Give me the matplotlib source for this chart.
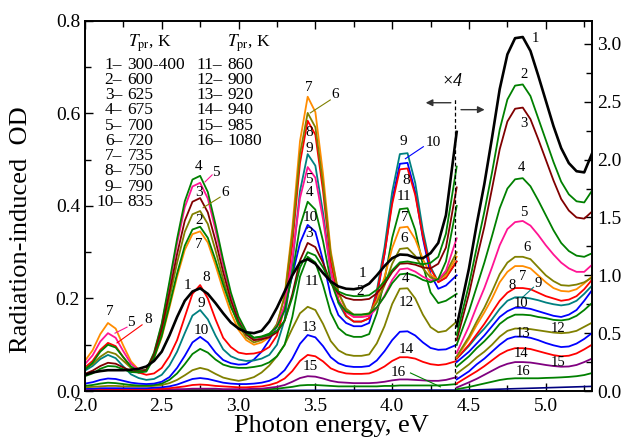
import matplotlib
matplotlib.use("Agg")
import matplotlib.pyplot as plt
from matplotlib.ticker import MultipleLocator, FormatStrFormatter

plt.rcParams["font.family"] = ["Liberation Serif", "DejaVu Serif"]
plt.rcParams["mathtext.fontset"] = "stix"
plt.rcParams["figure.dpi"] = 100

# photon energy grid, left part (OD on left axis)
energy_left = [2.00, 2.05, 2.10, 2.15, 2.20, 2.25, 2.30, 2.35, 2.40, 2.45,
               2.50, 2.55, 2.60, 2.65, 2.70, 2.75, 2.80, 2.85, 2.90, 2.95,
               3.00, 3.05, 3.10, 3.15, 3.20, 3.25, 3.30, 3.35, 3.40, 3.45,
               3.50, 3.55, 3.60, 3.65, 3.70, 3.75, 3.80, 3.85, 3.90, 3.95,
               4.00, 4.05, 4.10, 4.15, 4.20, 4.25, 4.30, 4.35, 4.42]

# right part (real OD on right axis, left part is x4)
energy_right = [4.42, 4.50, 4.55, 4.60, 4.65, 4.70, 4.75, 4.80, 4.85,
                4.90, 4.95, 5.00, 5.05, 5.10, 5.15, 5.20, 5.25, 5.30]

temps = ["300-400", "600", "625", "675", "700", "720", "735", "750", "790",
         "835", "860", "900", "920", "940", "985", "1080"]

colors = ["#000000", "#008000", "#800000", "#008000", "#ff1493", "#808000",
          "#ff8c00", "#ff0000", "#008080", "#0000ff", "#008000", "#808000",
          "#0000ff", "#ff0000", "#800080", "#008000"]

od_left_1 = [0.035, 0.040, 0.043, 0.045, 0.045, 0.045, 0.046, 0.048, 0.053,
             0.065, 0.085, 0.120, 0.160, 0.195, 0.215, 0.222, 0.210, 0.190, 0.168, 0.148, 0.135, 0.127, 0.125,
             0.130, 0.150, 0.180, 0.215, 0.250, 0.278, 0.285, 0.275, 0.255, 0.237, 0.226, 0.221, 0.220, 0.223,
             0.232, 0.250, 0.270, 0.287, 0.295, 0.294, 0.288, 0.287, 0.298, 0.320, 0.380, 0.560]
od_left_2 = [0.032, 0.038, 0.048, 0.054, 0.053, 0.047, 0.041, 0.040, 0.042,
             0.072, 0.119, 0.185, 0.254, 0.314, 0.349, 0.355, 0.331, 0.283, 0.230, 0.182, 0.146, 0.125, 0.115,
             0.117, 0.121, 0.130, 0.152, 0.202, 0.267, 0.300, 0.293, 0.267, 0.234, 0.215, 0.208, 0.205, 0.205,
             0.207, 0.219, 0.237, 0.261, 0.278, 0.280, 0.277, 0.274, 0.277, 0.290, 0.340, 0.485]
od_left_3 = [0.037, 0.044, 0.054, 0.061, 0.059, 0.051, 0.043, 0.040, 0.045,
             0.078, 0.134, 0.213, 0.296, 0.368, 0.409, 0.417, 0.386, 0.325, 0.257, 0.196, 0.150, 0.122, 0.110,
             0.112, 0.116, 0.127, 0.152, 0.209, 0.282, 0.320, 0.311, 0.277, 0.234, 0.211, 0.201, 0.197, 0.197,
             0.199, 0.211, 0.231, 0.257, 0.275, 0.276, 0.273, 0.267, 0.265, 0.275, 0.310, 0.440]
od_left_4 = [0.046, 0.061, 0.085, 0.100, 0.094, 0.073, 0.053, 0.043, 0.046,
             0.083, 0.146, 0.236, 0.329, 0.410, 0.457, 0.465, 0.430, 0.360, 0.283, 0.213, 0.161, 0.129, 0.115,
             0.118, 0.124, 0.139, 0.174, 0.253, 0.356, 0.409, 0.392, 0.324, 0.238, 0.192, 0.172, 0.165, 0.165,
             0.167, 0.181, 0.204, 0.233, 0.252, 0.254, 0.249, 0.240, 0.235, 0.242, 0.280, 0.400]
od_left_5 = [0.058, 0.077, 0.107, 0.125, 0.115, 0.086, 0.059, 0.045, 0.046,
             0.081, 0.143, 0.229, 0.319, 0.397, 0.442, 0.450, 0.416, 0.348, 0.273, 0.205, 0.154, 0.124, 0.110,
             0.114, 0.121, 0.140, 0.185, 0.286, 0.417, 0.484, 0.461, 0.371, 0.257, 0.196, 0.170, 0.160, 0.160,
             0.162, 0.179, 0.206, 0.240, 0.263, 0.265, 0.258, 0.247, 0.239, 0.240, 0.260, 0.330]
od_left_6 = [0.049, 0.058, 0.074, 0.085, 0.080, 0.065, 0.050, 0.043, 0.045,
             0.075, 0.127, 0.200, 0.277, 0.344, 0.382, 0.389, 0.361, 0.304, 0.241, 0.185, 0.142, 0.116, 0.105,
             0.110, 0.120, 0.145, 0.204, 0.338, 0.512, 0.601, 0.570, 0.448, 0.296, 0.213, 0.178, 0.165, 0.165,
             0.168, 0.191, 0.228, 0.275, 0.307, 0.309, 0.292, 0.265, 0.245, 0.240, 0.255, 0.300]
od_left_7 = [0.065, 0.088, 0.123, 0.147, 0.135, 0.098, 0.064, 0.046, 0.046,
             0.071, 0.116, 0.180, 0.247, 0.305, 0.339, 0.345, 0.321, 0.272, 0.218, 0.169, 0.132, 0.110, 0.100,
             0.105, 0.116, 0.143, 0.207, 0.352, 0.540, 0.636, 0.603, 0.469, 0.303, 0.212, 0.174, 0.160, 0.160,
             0.164, 0.196, 0.246, 0.309, 0.353, 0.355, 0.328, 0.285, 0.251, 0.240, 0.250, 0.290]
od_left_8 = [0.051, 0.065, 0.089, 0.104, 0.097, 0.073, 0.051, 0.040, 0.035,
             0.038, 0.050, 0.075, 0.110, 0.160, 0.210, 0.229, 0.200, 0.155, 0.115, 0.095, 0.083, 0.080, 0.081,
             0.085, 0.095, 0.120, 0.181, 0.317, 0.493, 0.584, 0.554, 0.432, 0.280, 0.198, 0.163, 0.150, 0.150,
             0.157, 0.211, 0.296, 0.404, 0.479, 0.481, 0.424, 0.334, 0.264, 0.235, 0.245, 0.280]
od_left_9 = [0.044, 0.054, 0.069, 0.078, 0.071, 0.053, 0.036, 0.028, 0.024,
             0.026, 0.035, 0.055, 0.085, 0.125, 0.163, 0.175, 0.155, 0.120, 0.090, 0.075, 0.068, 0.065, 0.066,
             0.070, 0.078, 0.100, 0.154, 0.275, 0.432, 0.512, 0.487, 0.385, 0.259, 0.190, 0.161, 0.150, 0.150,
             0.157, 0.217, 0.310, 0.430, 0.512, 0.514, 0.450, 0.347, 0.268, 0.236, 0.245, 0.280]
od_left_10 = [0.016, 0.019, 0.024, 0.027, 0.026, 0.022, 0.018, 0.016, 0.015,
              0.016, 0.020, 0.030, 0.050, 0.076, 0.105, 0.117, 0.105, 0.083, 0.067, 0.060, 0.057, 0.058, 0.068,
              0.085, 0.110, 0.140, 0.180, 0.250, 0.320, 0.359, 0.344, 0.282, 0.206, 0.164, 0.147, 0.140, 0.140,
              0.147, 0.205, 0.296, 0.412, 0.491, 0.493, 0.430, 0.330, 0.252, 0.221, 0.228, 0.250]
od_left_11 = [0.011, 0.013, 0.016, 0.018, 0.017, 0.015, 0.013, 0.012, 0.012,
              0.013, 0.016, 0.024, 0.038, 0.058, 0.080, 0.091, 0.083, 0.068, 0.057, 0.052, 0.050, 0.050, 0.052,
              0.055, 0.062, 0.075, 0.100, 0.160, 0.247, 0.290, 0.278, 0.229, 0.169, 0.136, 0.122, 0.117, 0.117,
              0.123, 0.168, 0.240, 0.331, 0.393, 0.395, 0.348, 0.272, 0.213, 0.190, 0.195, 0.210]
od_left_12 = [0.008, 0.009, 0.010, 0.011, 0.011, 0.010, 0.010, 0.010, 0.010,
              0.011, 0.013, 0.017, 0.024, 0.034, 0.045, 0.050, 0.046, 0.037, 0.029, 0.025, 0.022, 0.025, 0.030,
              0.040, 0.055, 0.075, 0.100, 0.135, 0.168, 0.182, 0.175, 0.145, 0.108, 0.088, 0.079, 0.076, 0.076,
              0.079, 0.103, 0.140, 0.188, 0.221, 0.222, 0.200, 0.165, 0.138, 0.127, 0.130, 0.150]
od_left_13 = [0.005, 0.005, 0.006, 0.006, 0.006, 0.006, 0.006, 0.006, 0.006,
              0.007, 0.008, 0.010, 0.014, 0.020, 0.026, 0.028, 0.026, 0.022, 0.018, 0.016, 0.015, 0.015, 0.016,
              0.018, 0.022, 0.030, 0.045, 0.070, 0.102, 0.121, 0.116, 0.097, 0.073, 0.060, 0.054, 0.052, 0.052,
              0.054, 0.066, 0.086, 0.110, 0.128, 0.129, 0.120, 0.105, 0.093, 0.089, 0.090, 0.100]
od_left_14 = [0.004, 0.004, 0.004, 0.004, 0.004, 0.004, 0.004, 0.004, 0.004,
              0.004, 0.005, 0.006, 0.008, 0.010, 0.013, 0.014, 0.013, 0.011, 0.010, 0.009, 0.008, 0.008, 0.009,
              0.010, 0.013, 0.018, 0.027, 0.043, 0.065, 0.078, 0.075, 0.064, 0.049, 0.042, 0.038, 0.037, 0.037,
              0.038, 0.044, 0.053, 0.065, 0.073, 0.073, 0.070, 0.063, 0.058, 0.056, 0.058, 0.065]
od_left_15 = [0.002, 0.002, 0.002, 0.002, 0.002, 0.002, 0.002, 0.002, 0.002,
              0.002, 0.003, 0.003, 0.004, 0.004, 0.005, 0.005, 0.005, 0.005, 0.004, 0.004, 0.004, 0.004, 0.005,
              0.005, 0.007, 0.009, 0.013, 0.020, 0.028, 0.032, 0.031, 0.027, 0.022, 0.019, 0.018, 0.017, 0.017,
              0.017, 0.018, 0.020, 0.023, 0.025, 0.025, 0.024, 0.023, 0.022, 0.022, 0.024, 0.030]
od_left_16 = [0.001, 0.001, 0.001, 0.001, 0.001, 0.001, 0.001, 0.001, 0.001,
              0.002, 0.002, 0.002, 0.002, 0.003, 0.003, 0.003, 0.003, 0.002, 0.002, 0.002, 0.002, 0.002, 0.002,
              0.003, 0.004, 0.005, 0.007, 0.009, 0.012, 0.013, 0.013, 0.012, 0.011, 0.010, 0.010, 0.010, 0.010,
              0.010, 0.010, 0.011, 0.011, 0.012, 0.012, 0.012, 0.012, 0.012, 0.012, 0.013, 0.015]

od_right_1 = [0.56, 1.06, 1.44, 1.79, 2.19, 2.61, 2.91, 3.05, 3.06, 2.94, 2.73, 2.51, 2.29, 2.10, 1.97, 1.90, 1.89, 2.05]
od_right_2 = [0.485, 0.92, 1.24, 1.55, 1.89, 2.26, 2.52, 2.64, 2.65, 2.55, 2.36, 2.17, 1.98, 1.81, 1.70, 1.64, 1.63, 1.73]
od_right_3 = [0.44, 0.84, 1.14, 1.42, 1.75, 2.09, 2.33, 2.44, 2.45, 2.35, 2.18, 2.00, 1.82, 1.66, 1.56, 1.50, 1.49, 1.55]
od_right_4 = [0.40, 0.69, 0.90, 1.11, 1.34, 1.58, 1.75, 1.83, 1.84, 1.77, 1.65, 1.52, 1.39, 1.28, 1.21, 1.17, 1.16, 1.19]
od_right_5 = [0.33, 0.56, 0.73, 0.89, 1.07, 1.26, 1.40, 1.46, 1.47, 1.43, 1.35, 1.26, 1.18, 1.11, 1.06, 1.03, 1.03, 1.09]
od_right_6 = [0.30, 0.47, 0.60, 0.72, 0.86, 1.01, 1.11, 1.16, 1.16, 1.14, 1.07, 1.00, 0.95, 0.915, 0.91, 0.92, 0.94, 0.98]
od_right_7 = [0.29, 0.45, 0.57, 0.68, 0.80, 0.94, 1.03, 1.08, 1.08, 1.06, 1.00, 0.94, 0.89, 0.865, 0.86, 0.88, 0.93, 0.99]
od_right_8 = [0.28, 0.40, 0.49, 0.58, 0.68, 0.78, 0.85, 0.89, 0.89, 0.88, 0.85, 0.82, 0.80, 0.78, 0.79, 0.82, 0.88, 0.96]
od_right_9 = [0.28, 0.39, 0.47, 0.54, 0.62, 0.71, 0.78, 0.81, 0.81, 0.80, 0.785, 0.765, 0.75, 0.74, 0.75, 0.78, 0.84, 0.91]
od_right_10 = [0.25, 0.34, 0.41, 0.48, 0.56, 0.64, 0.69, 0.72, 0.72, 0.71, 0.69, 0.67, 0.65, 0.64, 0.66, 0.70, 0.78, 0.87]
od_right_11 = [0.21, 0.30, 0.37, 0.43, 0.50, 0.58, 0.63, 0.66, 0.66, 0.655, 0.64, 0.63, 0.615, 0.61, 0.62, 0.65, 0.70, 0.76]
od_right_12 = [0.15, 0.23, 0.29, 0.34, 0.40, 0.47, 0.52, 0.54, 0.54, 0.535, 0.525, 0.515, 0.505, 0.50, 0.505, 0.52, 0.555, 0.59]
od_right_13 = [0.10, 0.17, 0.23, 0.28, 0.34, 0.40, 0.45, 0.47, 0.47, 0.46, 0.44, 0.415, 0.395, 0.38, 0.385, 0.41, 0.45, 0.50]
od_right_14 = [0.065, 0.13, 0.17, 0.215, 0.265, 0.315, 0.35, 0.37, 0.37, 0.363, 0.345, 0.327, 0.31, 0.30, 0.305, 0.325, 0.36, 0.40]
od_right_15 = [0.03, 0.075, 0.105, 0.14, 0.175, 0.21, 0.235, 0.25, 0.25, 0.246, 0.236, 0.225, 0.216, 0.21, 0.212, 0.225, 0.25, 0.28]
od_right_16 = [0.015, 0.035, 0.05, 0.065, 0.08, 0.095, 0.105, 0.11, 0.11, 0.11, 0.11, 0.113, 0.115, 0.118, 0.122, 0.128, 0.138, 0.155]

# reference (non-irradiated) baseline
base_energy_left = [2.00, 3.00, 4.00, 4.42]
base_od_left = [0.001, 0.001, 0.002, 0.002]
base_energy_right = [4.42, 4.80, 5.30]
base_od_right = [0.005, 0.020, 0.040]

od_left = [od_left_1, od_left_2, od_left_3, od_left_4, od_left_5, od_left_6, od_left_7, od_left_8,
           od_left_9, od_left_10, od_left_11, od_left_12, od_left_13, od_left_14, od_left_15, od_left_16]
od_right = [od_right_1, od_right_2, od_right_3, od_right_4, od_right_5, od_right_6, od_right_7, od_right_8,
            od_right_9, od_right_10, od_right_11, od_right_12, od_right_13, od_right_14, od_right_15, od_right_16]

# curve numbers: (label, x, y, leader line or None)
labels_left = [
    ("7", 2.16, 0.171, None), ("5", 2.30, 0.149, (2.274, 0.138, 2.196, 0.125)),
    ("8", 2.41, 0.154, (2.372, 0.143, 2.209, 0.104)),
    ("4", 2.743, 0.486, None), ("5", 2.854, 0.473, (2.828, 0.467, 2.782, 0.452)),
    ("3", 2.743, 0.428, None), ("6", 2.913, 0.430, (2.88, 0.419, 2.769, 0.396)),
    ("2", 2.743, 0.368, None), ("7", 2.743, 0.316, None), ("1", 2.67, 0.229, None),
    ("8", 2.79, 0.246, None), ("9", 2.76, 0.19, None), ("10", 2.76, 0.13, None),
    ("7", 3.455, 0.655, None), ("6", 3.63, 0.64, (3.597, 0.629, 3.467, 0.601)),
    ("8", 3.46, 0.558, None), ("9", 3.46, 0.525, None), ("5", 3.46, 0.458, None),
    ("4", 3.46, 0.428, None), ("10", 3.47, 0.374, None), ("3", 3.46, 0.34, None),
    ("11", 3.48, 0.236, None), ("13", 3.46, 0.138, None), ("15", 3.47, 0.052, None),
    ("1", 3.81, 0.255, None), ("2", 3.79, 0.216, None),
    ("9", 4.07, 0.54, None), ("10", 4.27, 0.536, (4.203, 0.528, 4.086, 0.502)),
    ("8", 4.09, 0.456, None), ("11", 4.08, 0.42, None), ("7", 4.08, 0.376, None),
    ("6", 4.08, 0.33, None), ("4", 4.09, 0.244, None), ("12", 4.09, 0.192, None),
    ("14", 4.09, 0.09, None), ("16", 4.04, 0.041, (4.119, 0.039, 4.314, 0.009)),
]
labels_right = [
    ("1", 4.93, 3.05, None), ("2", 4.855, 2.74, None), ("3", 4.855, 2.31, None),
    ("4", 4.84, 1.93, None), ("5", 4.855, 1.54, None), ("6", 4.88, 1.24, None),
    ("7", 4.85, 0.99, None), ("8", 4.78, 0.91, None), ("9", 4.95, 0.93, (4.92, 0.897, 4.849, 0.81)),
    ("10", 4.84, 0.76, None), ("13", 4.855, 0.50, None), ("12", 5.08, 0.54, None),
    ("14", 4.84, 0.32, None), ("15", 5.08, 0.25, None), ("16", 4.855, 0.17, None),
]


def color_of(label):
    return colors[int(label) - 1]


def put_labels(ax, items, size):
    for text, x, y, leader in items:
        if leader is not None:
            ax.plot([leader[0], leader[2]], [leader[1], leader[3]], color=color_of(text), lw=0.8)
        ax.text(x, y, text, ha="center", va="center", fontsize=size, zorder=5)


fig = plt.figure(figsize=(6.29, 4.46))
ax = fig.add_axes([0.135, 0.1233, 0.806, 0.830])
ax2 = ax.twinx()

ax.plot(base_energy_left, base_od_left, color="#000080", lw=1.2)
ax2.plot(base_energy_right, base_od_right, color="#000080", lw=1.2)
for i in range(15, -1, -1):
    lw = 1.9 if i == 0 else 1.3
    ax.plot(energy_left, od_left[i], color=colors[i], lw=lw, solid_joinstyle="round")
    ax2.plot(energy_right, od_right[i], color=colors[i], lw=lw, solid_joinstyle="round")

ax.set_xlim(2.0, 5.3)
ax.set_ylim(0, 0.8)
ax2.set_ylim(0, 3.2)

ax.xaxis.set_major_locator(MultipleLocator(0.5))
ax.xaxis.set_minor_locator(MultipleLocator(0.25))
ax.yaxis.set_major_locator(MultipleLocator(0.2))
ax.yaxis.set_minor_locator(MultipleLocator(0.1))
ax2.yaxis.set_major_locator(MultipleLocator(0.5))
ax2.yaxis.set_minor_locator(MultipleLocator(0.25))
ax.xaxis.set_major_formatter(FormatStrFormatter("%.1f"))
ax.yaxis.set_major_formatter(FormatStrFormatter("%.1f"))
ax2.yaxis.set_major_formatter(FormatStrFormatter("%.1f"))

ax.tick_params(which="both", direction="in", top=True, right=False, labelsize=14, width=1)
ax.tick_params(which="major", length=6)
ax.tick_params(which="minor", length=4)
ax.tick_params(axis="x", pad=5)
ax2.tick_params(which="both", direction="in", labelsize=14, width=1)
ax2.tick_params(which="major", length=6)
ax2.tick_params(which="minor", length=4)
for a in (ax, ax2):
    for s in a.spines.values():
        s.set_linewidth(1.2)

ax.set_xlabel("Photon energy, eV", fontsize=19)
ax.set_ylabel("Radiation-induced  OD", fontsize=19)
ax.xaxis.set_label_coords(0.487, -0.066)
ax.yaxis.set_label_coords(-0.105, 0.435)

# legend of annealing temperatures
ax.text(2.28, 0.752, r"$T_{\rm pr}$, K", fontsize=12.5, ha="left", va="center")
ax.text(2.926, 0.752, r"$T_{\rm pr}$, K", fontsize=12.5, ha="left", va="center")
for k, t in enumerate(temps):
    col = k // 10
    row = k if col == 0 else k - 10
    y = 0.705 - row * 0.0329
    xd = 2.243 if col == 0 else 2.895
    ax.text(xd, y, f"{k + 1}\u2013", fontsize=12.5, ha="right", va="center")
    ax.text(xd + 0.035, y, t, fontsize=12.5, ha="left", va="center")

put_labels(ax, labels_left, 11)
put_labels(ax2, labels_right, 10.5)

# x4 marker
ax.plot([4.41, 4.41], [0, 0.633], color="black", lw=0.9, ls=(0, (3, 2)))
ax.text(4.39, 0.668, "\u00d74", fontsize=13, ha="center", va="center", style="italic")
ax.annotate("", xy=(4.20, 0.623), xytext=(4.40, 0.623),
            arrowprops=dict(arrowstyle="-|>", color="#333333", lw=1, mutation_scale=10))
ax.annotate("", xy=(4.62, 0.608), xytext=(4.43, 0.608),
            arrowprops=dict(arrowstyle="-|>", color="#333333", lw=1, mutation_scale=10))

fig.savefig("out.png", dpi=100, facecolor="white")
